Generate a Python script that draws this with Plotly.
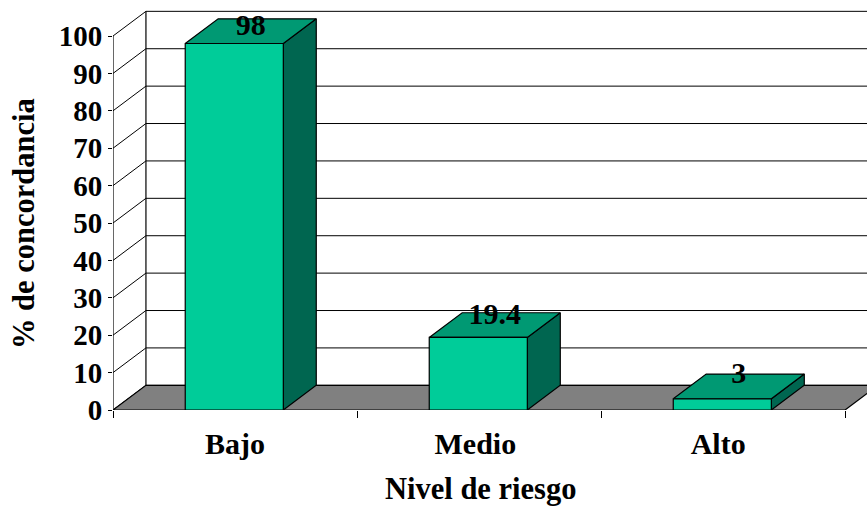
import plotly.graph_objects as go

# Datos de la gráfica
categorias = ["Bajo", "Medio", "Alto"]
concordancia = [98, 19.4, 3]
etiquetas = ["98", "19.4", "3"]
altura_etiquetas = [102.2, 25.1, 9.1]
marcas_y = list(range(0, 101, 10))

# Proyección oblicua de la caja (unidades de los ejes)
FONDO_X = 0.135
FONDO_Y = 6.6
ANCHO_BARRA = 0.402
CENTRO_BARRA = 0.497
FUENTE = "Liberation Serif"

COLOR_FRENTE = "#00CC99"
COLOR_TAPA = "#009973"
COLOR_LADO = "#006650"
COLOR_PISO = "#808080"

fig = go.Figure()


def poligono(xs, ys, relleno=None, grosor=1.2, color="black"):
    fig.add_trace(go.Scatter(
        x=xs, y=ys, mode="lines",
        fill="toself" if relleno else None,
        fillcolor=relleno,
        line=dict(color=color, width=grosor),
        hoverinfo="skip", showlegend=False, cliponaxis=False,
    ))


n = len(categorias)
x_max = 3.09

# Rejilla de la pared del fondo y de la pared lateral
for v in marcas_y:
    fig.add_trace(go.Scatter(
        x=[0, FONDO_X, x_max], y=[v, v + FONDO_Y, v + FONDO_Y], mode="lines",
        line=dict(color="black", width=1),
        hoverinfo="skip", showlegend=False,
    ))

# Aristas verticales de las paredes
poligono([0, 0], [0, 100])
poligono([FONDO_X, FONDO_X], [FONDO_Y, 100 + FONDO_Y])

# Piso gris
poligono([0, FONDO_X, n + FONDO_X, n, 0],
         [0, FONDO_Y, FONDO_Y, 0, 0], relleno=COLOR_PISO)

# Barras: frente, tapa y lado
for i, v in enumerate(concordancia):
    x0 = i + CENTRO_BARRA - ANCHO_BARRA / 2
    x1 = i + CENTRO_BARRA + ANCHO_BARRA / 2
    poligono([x1, x1 + FONDO_X, x1 + FONDO_X, x1, x1],
             [0, FONDO_Y, v + FONDO_Y, v, 0], relleno=COLOR_LADO)
    poligono([x0, x0 + FONDO_X, x1 + FONDO_X, x1, x0],
             [v, v + FONDO_Y, v + FONDO_Y, v, v], relleno=COLOR_TAPA)
    poligono([x0, x1, x1, x0, x0], [0, 0, v, v, 0], relleno=COLOR_FRENTE)

# Valores sobre cada barra
fig.add_trace(go.Scatter(
    x=[i + CENTRO_BARRA + FONDO_X / 2 for i in range(n)],
    y=altura_etiquetas,
    mode="text", text=etiquetas, textposition="middle center",
    textfont=dict(family=FUENTE, size=30, color="black"),
    texttemplate="<b>%{text}</b>",
    hoverinfo="skip", showlegend=False, cliponaxis=False,
))

fig.update_layout(
    width=867, height=508,
    margin=dict(l=113, r=0, t=0, b=98),
    paper_bgcolor="white", plot_bgcolor="white",
    showlegend=False, hovermode=False,
    font=dict(family=FUENTE, color="black"),
    xaxis=dict(
        range=[0, x_max], showgrid=False, zeroline=False, showline=False,
        tickmode="array", tickvals=[0.5, 1.485, 2.48],
        ticktext=[f"<b>{c}</b>" for c in categorias],
        ticks="", ticklabelstandoff=13,
        tickfont=dict(family=FUENTE, size=30, color="black"),
        minor=dict(tickmode="array", tickvals=list(range(n + 1)), ticks="outside",
                   ticklen=7, tickwidth=1, tickcolor="black", showgrid=False),
    ),
    yaxis=dict(
        range=[0, 109.63], showgrid=False, zeroline=False, showline=False,
        tickmode="array", tickvals=marcas_y,
        ticktext=[f"<b>{v}</b>" for v in marcas_y],
        ticks="outside", ticklen=4, tickwidth=1, tickcolor="black",
        tickfont=dict(family=FUENTE, size=29, color="black"),
    ),
    annotations=[
        dict(text="<b>Nivel de riesgo</b>", x=480, y=489, xref="paper", yref="paper",
             showarrow=False, font=dict(family=FUENTE, size=30.5)),
        dict(text="<b>% de concordancia</b>", x=24, y=224, xref="paper", yref="paper",
             showarrow=False, textangle=-90, font=dict(family=FUENTE, size=30.5)),
    ],
)

# Títulos situados en píxeles de la página
for a in fig.layout.annotations:
    a.update(xref="paper", yref="paper", xanchor="center", yanchor="middle",
             x=(a.x - 113) / 754, y=(410 - a.y) / 410)

fig.write_html("out.html", config=dict(displayModeBar=False))
